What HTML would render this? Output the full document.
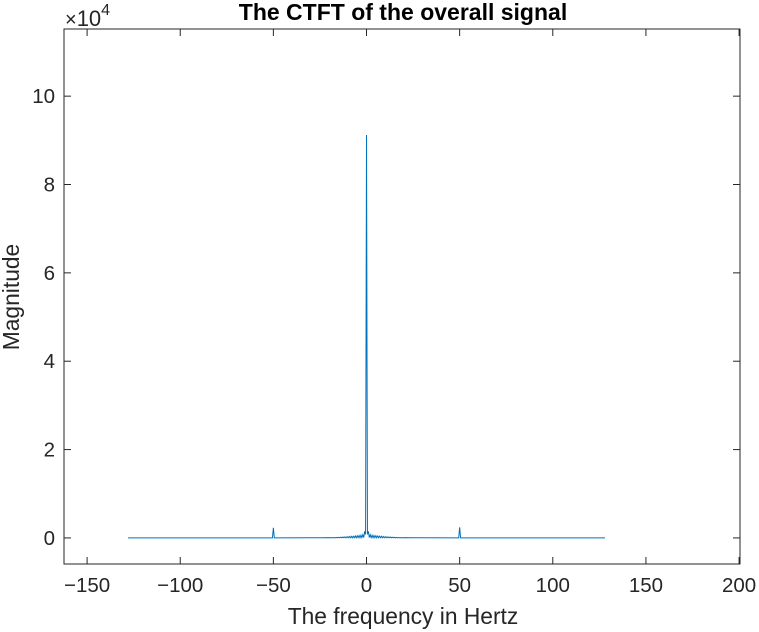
<!DOCTYPE html>
<html><head><meta charset="utf-8"><style>
html,body{margin:0;padding:0;background:#fff;}
svg{display:block;font-family:"Liberation Sans",Arial,sans-serif;}
</style></head><body>
<svg id="chart" width="759" height="632" viewBox="0 0 759 632" xmlns="http://www.w3.org/2000/svg">
<rect x="0" y="0" width="759" height="632" fill="#fff"/>
<g id="plot"></g>
</svg>
<script>
const freqs = [-128,-100,-70,-50.5,-50,-49.5,-30,-25,
-20,-19.5,-19,-18.5,-18,-17.5,-17,-16.5,-16,-15.5,-15,-14.5,-14,-13.5,-13,-12.5,-12,-11.5,-11,-10.5,-10,-9.5,-9,-8.5,-8,-7.5,-7,-6.5,-6,-5.5,-5,-4.5,-4,-3.5,-3,-2.5,-2,-1.5,-1,-0.5,
0,
0.5,1,1.5,2,2.5,3,3.5,4,4.5,5,5.5,6,6.5,7,7.5,8,8.5,9,9.5,10,10.5,11,11.5,12,12.5,13,13.5,14,14.5,15,15.5,16,16.5,17,17.5,18,18.5,19,19.5,20,
25,30,49.5,50,50.5,70,100,128];
const mags = [5,5,10,20,2300,20,30,40,
60,20,70,20,80,20,100,25,120,25,150,30,170,30,200,35,230,35,260,40,300,40,330,45,370,45,400,50,450,50,500,60,550,60,600,80,700,100,1500,800,
91200,
800,1500,100,700,80,600,60,550,60,500,50,450,50,400,45,370,45,330,40,300,40,260,35,230,35,200,30,170,30,150,25,120,25,100,20,80,20,70,20,60,
40,30,20,2400,20,10,5,5];
const xTicks = [-150,-100,-50,0,50,100,150,200];
const yTicks = [0,2,4,6,8,10];
const xMin=-162.4, xMax=200.5, yMin=-0.59, yMax=11.52;
const L=64,R=740,T=29,B=564;
const sx=v=>L+(v-xMin)/(xMax-xMin)*(R-L);
const sy=v=>B-(v-yMin)/(yMax-yMin)*(B-T);
const NS="http://www.w3.org/2000/svg";
const g=document.getElementById('plot');
function mk(tag,attrs,text){const e=document.createElementNS(NS,tag);for(const k in attrs)e.setAttribute(k,attrs[k]);if(text!==undefined)e.textContent=text;g.appendChild(e);return e;}
let d='';
for(let i=0;i<freqs.length;i++){d+=(i?'L':'M')+sx(freqs[i]).toFixed(2)+','+sy(mags[i]/1e4).toFixed(2);}
const line=mk('path',{d:d,fill:'none',stroke:'#0072BD','stroke-width':1});


const box=mk('rect',{x:L,y:T,width:R-L,height:B-T,fill:'none',stroke:'#262626','stroke-width':1});


xTicks.forEach(t=>{const x=sx(t);
 const a=mk('line',{x1:x,x2:x,y1:B,y2:B-7,stroke:'#262626'});
 
 
 const b=mk('line',{x1:x,x2:x,y1:T,y2:T+7,stroke:'#262626'});
 
 
 const tx=mk('text',{x:x,y:B+28,'text-anchor':'middle','font-size':20.5,fill:'#262626'},String(t).replace('-','\u2212'));
 
 
});
yTicks.forEach(t=>{const y=sy(t);
 const a=mk('line',{x1:L,x2:L+7,y1:y,y2:y,stroke:'#262626'});
 
 
 const b=mk('line',{x1:R,x2:R-7,y1:y,y2:y,stroke:'#262626'});
 
 
 const tx=mk('text',{x:L-9,y:y+7,'text-anchor':'end','font-size':20.5,fill:'#262626'},String(t));
 
 
});
const ex=mk('text',{x:65,y:26,'font-size':22,fill:'#262626'});


ex.innerHTML='<tspan font-size="20">\u00d7</tspan>10<tspan font-size="16" dy="-11">4</tspan>';
const title=mk('text',{x:403,y:20,'text-anchor':'middle','font-size':23,'font-weight':'bold',fill:'#000'},'The CTFT of the overall signal');


const xl=mk('text',{x:403,y:624,'text-anchor':'middle','font-size':22.8,fill:'#262626'},'The frequency in Hertz');


const yl=mk('text',{x:0,y:0,'text-anchor':'middle','font-size':22.8,fill:'#262626',transform:'translate(19,297) rotate(-90)'},'Magnitude');


</script>
</body></html>
